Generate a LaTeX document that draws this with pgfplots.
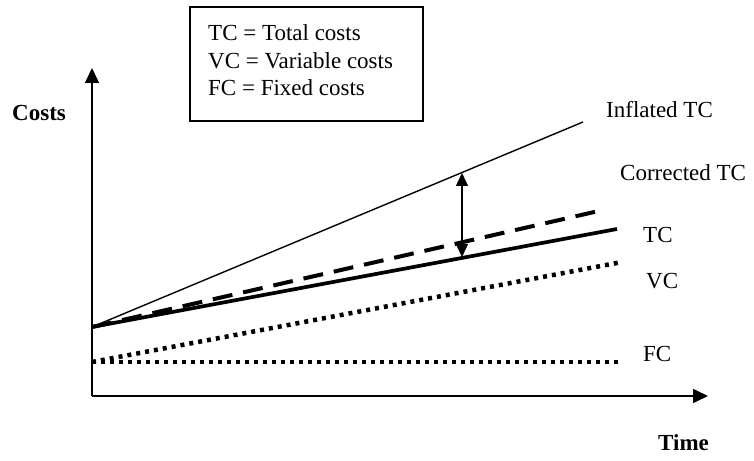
\documentclass[border=0pt]{standalone}
\usepackage{pgfplots}
\pgfplotsset{compat=1.18}
\usepackage{fontspec}
\setmainfont{Liberation Serif}
\usetikzlibrary{arrows.meta}

\tikzset{
  lbl/.style={anchor=base west, inner sep=0pt, font=\fontsize{23bp}{27bp}\selectfont},
  blbl/.style={anchor=base west, inner sep=0pt, font=\fontsize{23bp}{27bp}\selectfont\bfseries},
}

\begin{document}
\begin{tikzpicture}
  \useasboundingbox (0,0) rectangle (754bp,461bp);
  \begin{axis}[
    x=1bp, y=1bp,
    at={(92bp,65bp)}, anchor=south west,
    xmin=92, xmax=708,
    ymin=65, ymax=393,
    enlargelimits=false,
    axis lines=left,
    x axis line style={line width=1.6bp, -{Triangle[length=15bp,width=14bp]}},
    y axis line style={line width=1.6bp, -{Triangle[length=15bp,width=14bp]}},
    xtick=\empty, ytick=\empty,
    clip=false,
  ]
    % inflated TC (thin)
    \addplot[black, line width=1.4bp] coordinates {(92,134) (583,339)};
    % corrected TC (dashed)
    \addplot[black, line width=4bp, dash pattern=on 20bp off 11bp] coordinates {(92,134) (603,251)};
    % TC
    \addplot[black, line width=3.7bp] coordinates {(92,134) (617,232)};
    % VC
    \addplot[black, line width=4.5bp, dash pattern=on 4bp off 5bp] coordinates {(92,99) (622,199)};
    % FC
    \addplot[black, line width=4.5bp, dash pattern=on 4bp off 5bp] coordinates {(92,99) (622,99)};
    % double arrow
    \addplot[black, line width=1.4bp, {Triangle[length=13bp,width=12bp]}-{Triangle[length=13bp,width=12bp]}] coordinates {(462,288) (462,204)};

    \node[lbl] at (axis cs:606,344) {Inflated TC};
    \node[lbl] at (axis cs:620,281) {Corrected TC};
    \node[lbl] at (axis cs:643,219) {TC};
    \node[lbl] at (axis cs:646,173) {VC};
    \node[lbl] at (axis cs:643,100) {FC};
    \node[blbl] at (axis cs:658,11) {Time};
    \node[blbl] at (axis cs:12,341) {Costs};

    \draw[line width=2bp] (axis cs:190,340) rectangle (axis cs:423,454);
    \node[lbl] at (axis cs:208,421) {TC = Total costs};
    \node[lbl] at (axis cs:208,393) {VC = Variable costs};
    \node[lbl] at (axis cs:208,366) {FC = Fixed costs};
  \end{axis}
\end{tikzpicture}
\end{document}
